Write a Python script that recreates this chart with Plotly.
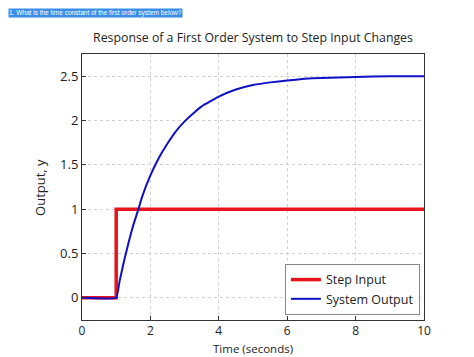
import plotly.graph_objects as go

step_t = [0, 1, 1, 10]
step_y = [0, 0, 1, 1]

out_t = [0, 1, 1.1, 1.25, 1.4, 1.5, 1.65, 1.75, 2, 2.25, 2.5, 2.75, 3, 3.25, 3.5, 4, 4.5, 5, 5.5, 6, 6.5, 7, 8, 9, 10]
out_y = [0, 0, 0.19, 0.45, 0.68, 0.82, 1.00, 1.13, 1.38, 1.58, 1.74, 1.88, 1.99, 2.08, 2.16, 2.27, 2.35, 2.40, 2.43, 2.45, 2.47, 2.48, 2.49, 2.50, 2.50]

x_ticks = [0, 2, 4, 6, 8, 10]
y_ticks = [0, 0.5, 1, 1.5, 2, 2.5]
y_tick_text = ["0", "0.5", "1", "1.5", "2", "2.5"]

fig = go.Figure()
fig.add_trace(go.Scatter(x=step_t, y=step_y, mode="lines", name="Step Input",
                         line=dict(color="#e8141b", width=3.5)))
fig.add_trace(go.Scatter(x=out_t, y=out_y, mode="lines", name="System Output",
                         line=dict(color="#1010c8", width=2, shape="spline", smoothing=0.3)))

font = "Open Sans, Lato, sans-serif"
fig.update_layout(
    width=466, height=349,
    margin=dict(l=74, r=50, t=46, b=37),
    paper_bgcolor="white", plot_bgcolor="white",
    font=dict(family=font, color="#222", size=12),
    title=dict(text="Response of a First Order System to Step Input Changes",
               x=0.5, xref="paper", y=0.914, yref="container", yanchor="middle",
               font=dict(size=12.3, color="#222", family=font)),
    xaxis=dict(range=[0, 10], tickvals=x_ticks, showgrid=True, gridcolor="#d0d0d0", griddash="dot",
               gridwidth=1, zeroline=False, showline=True, linecolor="#333", linewidth=1, mirror=True,
               ticks="inside", ticklen=4, tickcolor="#333", automargin=False,
               tickfont=dict(size=12)),
    yaxis=dict(range=[-0.25, 2.75], tickvals=y_ticks, ticktext=y_tick_text, showgrid=True,
               gridcolor="#d0d0d0", griddash="dot", gridwidth=1, zeroline=False, showline=True,
               linecolor="#333", linewidth=1, mirror=True, ticks="inside", ticklen=4, tickcolor="#333",
               automargin=False,
               tickfont=dict(size=13)),
    legend=dict(x=0.988, y=0.019, xanchor="right", yanchor="bottom",
                bgcolor="white", bordercolor="#888", borderwidth=1,
                font=dict(size=12.5, family=font), tracegroupgap=0, itemwidth=30),
    showlegend=True,
)
fig.add_annotation(text="Time (seconds)", xref="paper", yref="paper", x=0.5, y=-0.107,
                   xanchor="center", yanchor="middle", showarrow=False,
                   font=dict(size=11.5, family=font, color="#222"))
fig.add_annotation(text="Output, y", xref="paper", yref="paper", x=-0.123, y=0.5,
                   xanchor="center", yanchor="middle", showarrow=False, textangle=-90,
                   font=dict(size=13, family=font, color="#222"))
fig.add_annotation(text="1. What is the time constant of the first order system below?",
                   xref="paper", yref="paper", x=-0.216, y=1.153, xanchor="left", yanchor="middle",
                   showarrow=False, bgcolor="#3a8ee6", font=dict(size=6.5, color="white", family="Arial, Liberation Sans"),
                   borderpad=0)

fig.write_html("out.html")
